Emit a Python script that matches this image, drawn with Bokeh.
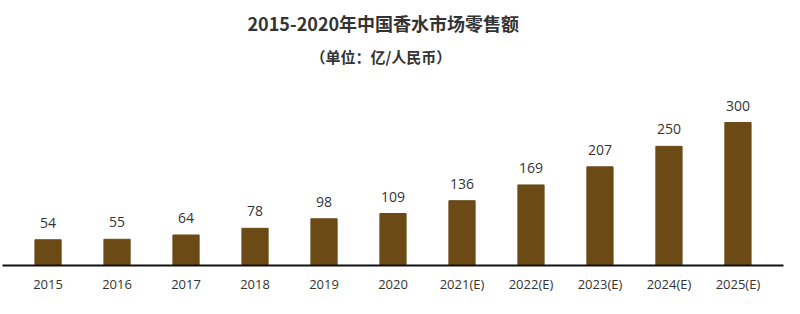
from bokeh.plotting import figure
from bokeh.models import FactorRange, ColumnDataSource, Title, LabelSet
from bokeh.core.properties import value
from bokeh.embed import file_html
from bokeh.resources import INLINE

categories = ["2015", "2016", "2017", "2018", "2019", "2020",
              "2021(E)", "2022(E)", "2023(E)", "2024(E)", "2025(E)"]
values = [54, 55, 64, 78, 98, 109, 136, 169, 207, 250, 300]
title_text = "2015-2020年中国香水市场零售额"
subtitle_text = "（单位：亿/人民币）"

src = ColumnDataSource(dict(cat=categories, val=values, lab=[str(v) for v in values]))

frame_top = 74
frame_bottom = 265
ppu = 143 / 300.0
y_end = (frame_bottom - frame_top) / ppu

p = figure(width=800, height=314, output_backend="svg", toolbar_location=None,
           x_range=FactorRange(factors=categories, range_padding=0.16,
                               range_padding_units="absolute"),
           y_range=(0, y_end),
           min_border_left=2, min_border_right=17, min_border_bottom=49,
           min_border_top=74)

p.add_layout(Title(text=subtitle_text, align="left", text_font="Noto Sans CJK SC",
                   text_font_size="15px", text_font_style="bold", text_color="#333333",
                   standoff=15, offset=308), "above")
p.add_layout(Title(text=title_text, align="left", text_font="Noto Sans CJK SC",
                   text_font_size="18px", text_font_style="bold", text_color="#333333",
                   standoff=2, offset=245), "above")

p.vbar(x="cat", top="val", width=0.38, source=src, color="#6B4A16")

labels = LabelSet(x="cat", y="val", text="lab", source=src, y_offset=12,
                  text_align="center", text_baseline="bottom",
                  text_font=value("Open Sans"), text_font_size=value("14px"),
                  text_color="#333333")
p.add_layout(labels)

p.yaxis.visible = False
p.xgrid.visible = False
p.ygrid.visible = False
p.outline_line_color = None
p.xaxis.axis_line_color = "#111111"
p.xaxis.axis_line_width = 2
p.xaxis.major_tick_line_color = None
p.xaxis.minor_tick_line_color = None
p.xaxis.major_label_text_font = "Open Sans"
p.xaxis.major_label_text_font_size = "13px"
p.xaxis.major_label_text_color = "#333333"
p.xaxis.major_label_standoff = 3

open("out.html", "w").write(file_html(p, INLINE))
